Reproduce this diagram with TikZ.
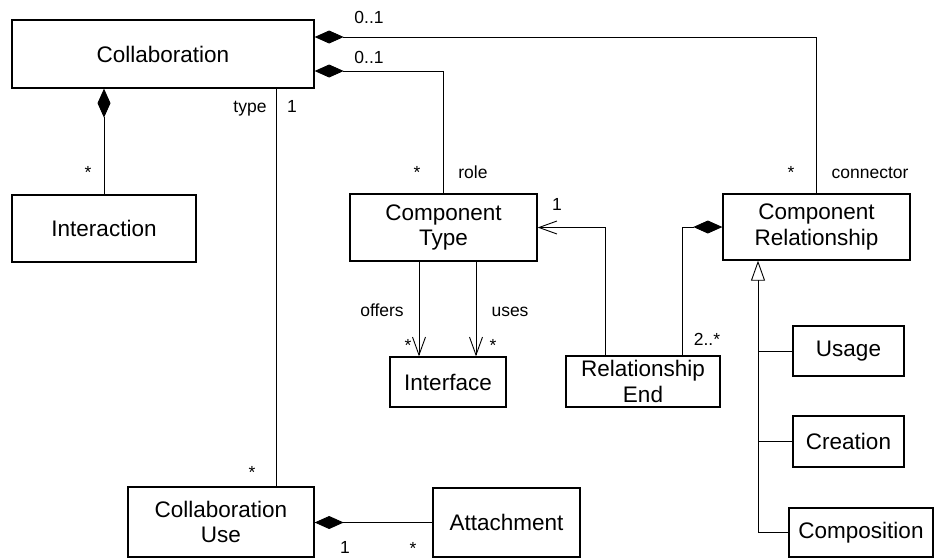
\documentclass[tikz,border=0pt]{standalone}
\usepackage{fontspec}
\setmainfont{Liberation Sans}
\usetikzlibrary{arrows.meta}

\begin{document}
\begin{tikzpicture}[x=1pt,y=-1pt,
    cls/.style={draw,line width=1.3pt,inner sep=0pt,align=center,font=\fontsize{22.5}{25.5}\selectfont},
    lbl/.style={anchor=base,inner sep=0pt,font=\fontsize{17.5}{20}\selectfont},
    conn/.style={line width=0.9pt},
    comp/.style={conn,-{Diamond[length=29pt,width=13pt]}},
    nav/.style={conn,-{Straight Barb[length=18pt,width=13pt,line width=0.9pt]}},
    gen/.style={conn,-{Triangle[open,length=20pt,width=14pt,fill=white,line width=0.9pt]}}]
    \useasboundingbox (0,0) rectangle (935,558);
    % classes
    \node[cls,minimum width=302pt,minimum height=68pt] (collab) at (163,54) {Collaboration};
    \node[cls,minimum width=184pt,minimum height=67pt] (inter) at (104,228.5) {Interaction};
    \node[cls,minimum width=187pt,minimum height=67pt] (ctype) at (443.5,227.5) {Component\\Type};
    \node[cls,minimum width=187pt,minimum height=66pt] (crel) at (816.5,227) {Component\\Relationship};
    \node[cls,minimum width=116pt,minimum height=50pt] (iface) at (448,382) {Interface};
    \node[cls,minimum width=154pt,minimum height=51pt] (rend) at (643,381.5) {Relationship\\End};
    \node[cls,minimum width=111pt,minimum height=50pt] (usage) at (848.5,351) {Usage};
    \node[cls,minimum width=111pt,minimum height=51pt] (creation) at (848.5,441.5) {Creation};
    \node[cls,minimum width=144pt,minimum height=49pt] (compos) at (861,532.5) {Composition};
    \node[cls,minimum width=186pt,minimum height=70pt] (cuse) at (221,522) {Collaboration\\Use};
    \node[cls,minimum width=147pt,minimum height=69pt] (attach) at (506.5,522.5) {Attachment};
    \coordinate (typex) at (276,0);
    \coordinate (genx) at (758,0);
    % compositions
    \draw[comp] (crel.north) |- ([yshift=17pt]collab.east);
    \draw[comp] (ctype.north) |- ([yshift=-17pt]collab.east);
    \draw[comp] (inter.north) -- (inter.north |- collab.south);
    \draw[comp] (attach.west) -- (attach.west -| cuse.east);
    \draw[comp] ([xshift=39pt]rend.north) |- (crel.west);
    % associations
    \draw[conn] (typex |- cuse.north) -- (typex |- collab.south);
    \draw[nav] ([xshift=-24.5pt]ctype.south) -- ([xshift=-24.5pt]ctype.south |- iface.north);
    \draw[nav] ([xshift=32.5pt]ctype.south) -- ([xshift=32.5pt]ctype.south |- iface.north);
    \draw[nav] ([xshift=-38pt]rend.north) |- (ctype.east);
    % generalization
    \draw[conn] (usage.west) -- (usage.west -| genx);
    \draw[conn] (creation.west) -- (creation.west -| genx);
    \draw[gen] (compos.west) -| (genx |- crel.south);
    % multiplicities and roles
    \node[lbl] (m1) at (369,23) {0..1};
    \node[lbl] (m2) at (369,63) {0..1};
    \node[lbl] (m3) at (88,178) {*};
    \node[lbl] (r1) at (250,112) {type};
    \node[lbl] (m4) at (292,112) {1};
    \node[lbl] (m5) at (252,478) {*};
    \node[lbl] (m6) at (417,178) {*};
    \node[lbl] (r2) at (473,178) {role};
    \node[lbl] (m7) at (791,178) {*};
    \node[lbl] (r3) at (870,178) {connector};
    \node[lbl] (m8) at (557,210) {1};
    \node[lbl] (r4) at (382,316) {offers};
    \node[lbl] (r5) at (510,316) {uses};
    \node[lbl] (m9) at (408,351) {*};
    \node[lbl] (m10) at (493,351) {*};
    \node[lbl] (m11) at (707,345) {2..*};
    \node[lbl] (m12) at (345,553) {1};
    \node[lbl] (m13) at (413,554) {*};
\end{tikzpicture}
\end{document}
